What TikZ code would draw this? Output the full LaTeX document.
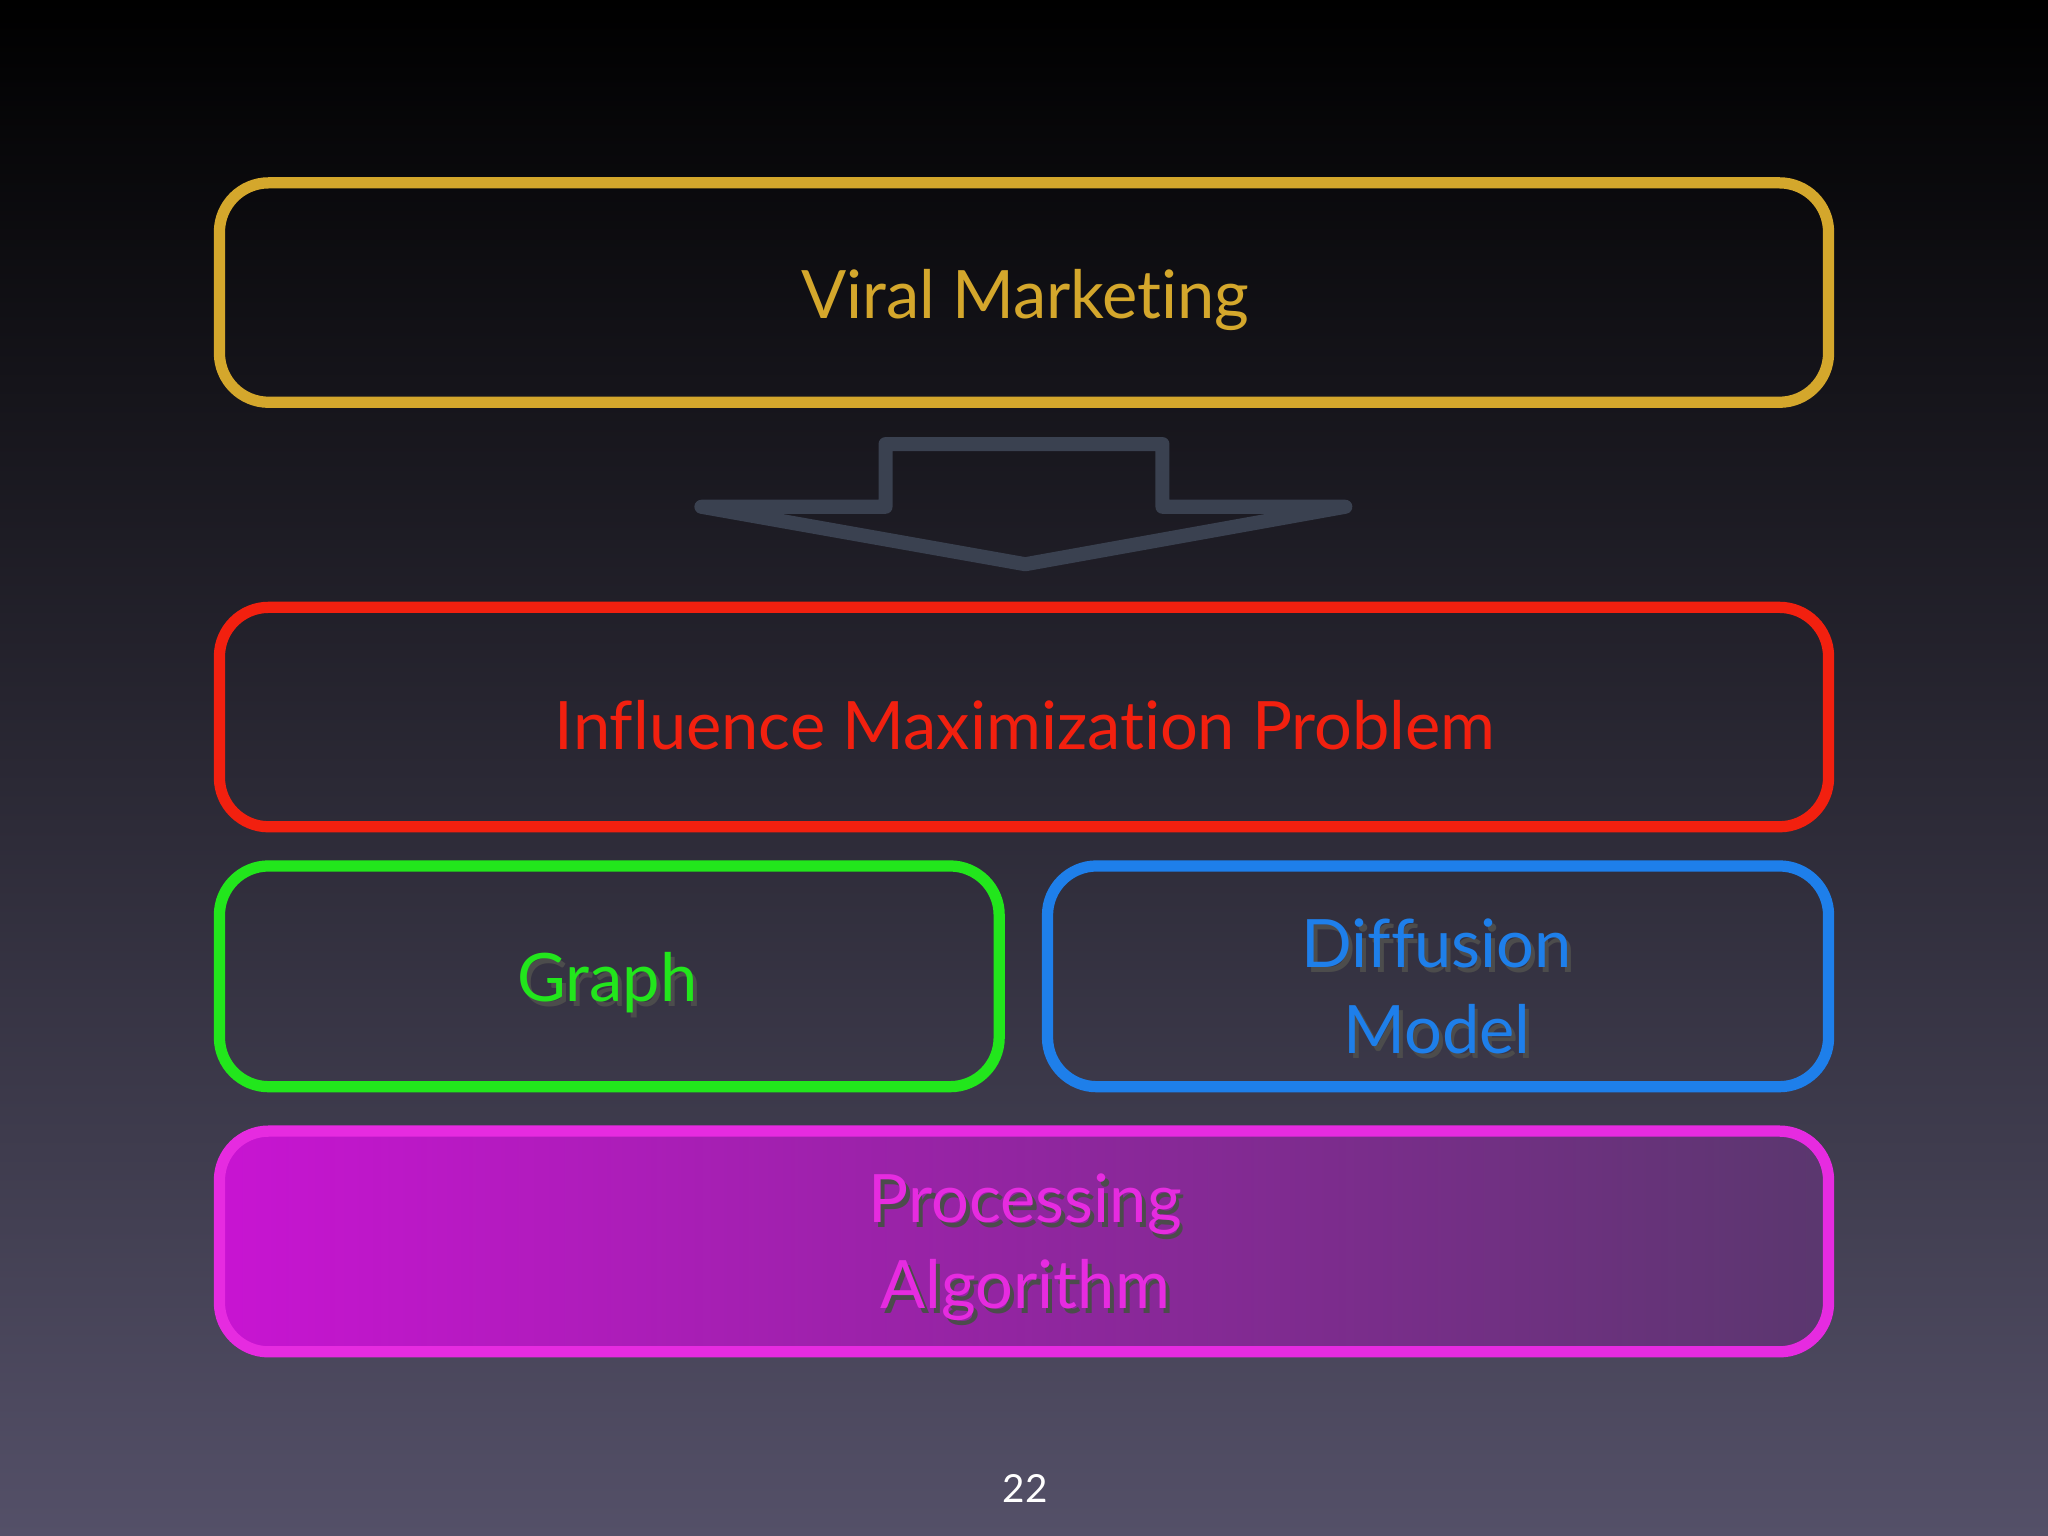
\documentclass[tikz,border=0pt]{standalone}
\usepackage{fontspec}
\setmainfont[Ligatures=NoCommon]{Lato}
\begin{document}
\begin{tikzpicture}[x=0.013061cm,y=-0.013061cm,
  chalk/.style={line width=3.2pt,rounded corners=14pt},
  lbl/.style={font=\fontsize{19}{24.5}\selectfont,align=center},
  shad/.style={lbl,text=black!70}]
\definecolor{gold}{HTML}{D4A72C}
\definecolor{redc}{HTML}{F2200F}
\definecolor{greenc}{HTML}{22E61C}
\definecolor{bluec}{HTML}{1E7FEA}
\definecolor{magc}{HTML}{E62BE0}
\definecolor{arrowc}{HTML}{3A4150}
\fill[top color=black,bottom color={rgb,255:red,84;green,80;blue,104}] (0,0) rectangle (1568,1176);
\useasboundingbox (0,0) rectangle (1568,1176);
\draw[chalk,gold] (168,140) rectangle (1400,308);
\node[lbl,text=gold] (vm) at (785,230) {Viral Marketing};
\draw[arrowc,line width=4pt,line join=round] (678,340) -- (890,340) -- (890,388) -- (1030,388) -- (785,432) -- (537,388) -- (678,388) -- cycle;
\draw[chalk,redc] (168,465) rectangle (1400,633);
\node[lbl,text=redc] (im) at (785,555) {Influence Maximization Problem};
\draw[chalk,greenc] (168,663) rectangle (765,832);
\node[shad] at (468,756) {Graph};
\node[lbl,text=greenc] (gr) at (465,752) {Graph};
\draw[chalk,bluec] (802,663) rectangle (1400,832);
\node[shad] at (1103,759) {Diffusion\\Model};
\node[lbl,text=bluec] (dm) at (1100,755) {Diffusion\\Model};
\shade[left color={rgb,255:red,200;green,20;blue,210},right color={rgb,255:red,90;green,55;blue,110},rounded corners=14pt] (168,866) rectangle (1400,1035);
\draw[chalk,magc] (168,866) rectangle (1400,1035);
\node[shad] at (788,959) {Processing\\Algorithm};
\node[lbl,text=magc] (pa) at (785,955) {Processing\\Algorithm};
\node[text=white,font=\fontsize{11}{13}\selectfont] (pg) at (785,1140) {22};
\end{tikzpicture}
\end{document}
